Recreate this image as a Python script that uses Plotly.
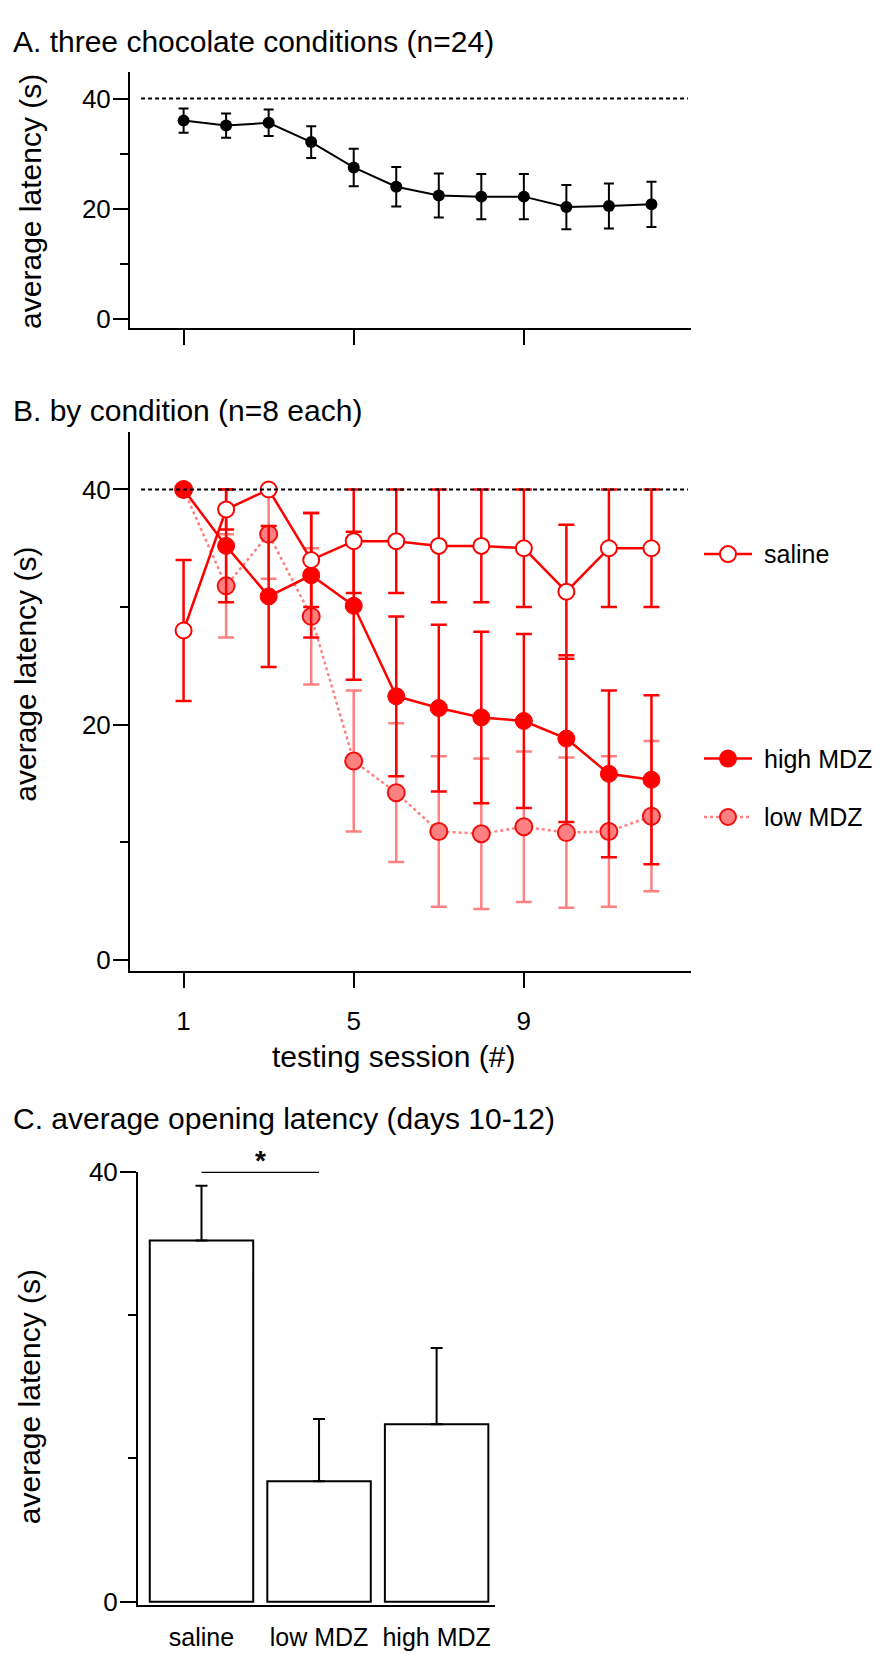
import plotly.graph_objects as go

# Page is 880x1659; the browser body has an 8px margin, so the figure is
# made 16px smaller and every page coordinate is shifted by that margin.
PAGE_W, PAGE_H = 880, 1659
OFF = 8
W, H = PAGE_W - 2 * OFF, PAGE_H - 2 * OFF
FONT = "Liberation Sans, Arial, sans-serif"

# ---------------- data ----------------
sessions = list(range(1, 13))

# Panel A: all animals (n=24)
mean_all = [36.0, 35.1, 35.6, 32.1, 27.5, 24.0, 22.4, 22.2, 22.2, 20.3, 20.5, 20.8]
sem_all = [2.2, 2.2, 2.4, 2.9, 3.4, 3.6, 4.0, 4.1, 4.1, 4.0, 4.1, 4.1]

# Panel B: by condition (n=8 each)
saline_mean = [28.0, 38.3, 40.0, 34.0, 35.6, 35.6, 35.2, 35.2, 35.0, 31.3, 35.0, 35.0]
saline_sem = [6.0, 1.7, 0.0, 4.0, 4.4, 4.4, 4.8, 4.8, 5.0, 5.7, 5.0, 5.0]
high_mean = [40.0, 35.2, 30.9, 32.7, 30.1, 22.4, 21.4, 20.6, 20.3, 18.8, 15.8, 15.3]
high_sem = [0.0, 4.8, 6.0, 5.3, 6.3, 6.8, 7.1, 7.3, 7.4, 7.1, 7.1, 7.2]
low_mean = [40.0, 31.8, 36.2, 29.2, 16.9, 14.2, 10.9, 10.7, 11.3, 10.8, 10.9, 12.2]
low_sem = [0.0, 4.4, 3.8, 5.8, 6.0, 5.9, 6.4, 6.4, 6.4, 6.4, 6.4, 6.4]

# Panel C: average opening latency (days 10-12)
groups = ["saline", "low MDZ", "high MDZ"]
group_mean = [33.6, 11.2, 16.5]
group_sem = [5.1, 5.8, 7.1]

ceiling = 40
x_ticks = [1, 5, 9]
x_ticklabels = ["1", "5", "9"]

RED = "#FF0000"
PINK = "#FF8080"
EDGE = "#F01010"


def px(x):
    return (x - OFF) / W


def py(y):
    return 1 - (y - OFF) / H


fig = go.Figure()

# ---------------- Panel A ----------------
fig.add_trace(go.Scatter(
    x=sessions, y=mean_all, mode="lines+markers",
    line=dict(color="black", width=2),
    marker=dict(color="black", size=12),
    error_y=dict(type="data", array=sem_all, color="black", thickness=2, width=5),
    xaxis="x", yaxis="y", showlegend=False,
))

# ---------------- Panel B ----------------
fig.add_trace(go.Scatter(
    x=sessions, y=low_mean, mode="lines+markers", name="low MDZ",
    line=dict(color=PINK, width=2.5, dash="dot"),
    marker=dict(color=PINK, size=17, line=dict(color=EDGE, width=2)),
    error_y=dict(type="data", array=low_sem, color=PINK, thickness=2.5, width=8),
    xaxis="x2", yaxis="y2", showlegend=False,
))
fig.add_trace(go.Scatter(
    x=sessions, y=high_mean, mode="lines+markers", name="high MDZ",
    line=dict(color=RED, width=2.5),
    marker=dict(color=RED, size=17, line=dict(color=RED, width=1)),
    error_y=dict(type="data", array=high_sem, color=RED, thickness=2.5, width=8),
    xaxis="x2", yaxis="y2", showlegend=False,
))
fig.add_trace(go.Scatter(
    x=sessions, y=saline_mean, mode="lines+markers", name="saline",
    line=dict(color=RED, width=2.5),
    marker=dict(color="white", size=16, line=dict(color=RED, width=2)),
    error_y=dict(type="data", array=saline_sem, color=RED, thickness=2.5, width=8),
    xaxis="x2", yaxis="y2", showlegend=False,
))

# ---------------- Panel C ----------------
fig.add_trace(go.Bar(
    x=groups, y=group_mean, width=0.88,
    marker=dict(color="white", line=dict(color="black", width=2)),
    error_y=dict(type="data", array=group_sem, arrayminus=[0] * len(group_sem),
                 symmetric=False, color="black", thickness=2, width=6),
    xaxis="x3", yaxis="y3", showlegend=False,
))

# ---------------- axes ----------------
axis_common = dict(showgrid=False, zeroline=False, showline=True, linecolor="black",
                   linewidth=2, ticks="outside", tickcolor="black", tickwidth=2)
yfont = dict(family=FONT, size=26, color="black")
xfont = dict(family=FONT, size=26, color="black")

xdom = [px(130), px(691)]
xrange_ab = [-0.26, 12.93]

fig.update_layout(
    xaxis=dict(domain=xdom, range=xrange_ab, anchor="y", tickvals=x_ticks,
               showticklabels=False, ticklen=15, **axis_common),
    yaxis=dict(domain=[py(318), py(58)], range=[-1.6, 44.8], anchor="x",
               tickvals=[0, 20, 40], ticklen=15, tickfont=yfont, ticklabelstandoff=-3,
               minor=dict(tickvals=[10, 30], ticklen=8, tickwidth=2, tickcolor="black",
                          ticks="outside"),
               **axis_common),
    xaxis2=dict(domain=xdom, range=xrange_ab, anchor="y2", tickvals=x_ticks,
                ticktext=x_ticklabels, ticklen=15, tickfont=xfont,
                ticklabelstandoff=11, **axis_common),
    yaxis2=dict(domain=[py(972.6), py(424)], range=[-0.99, 44.9], anchor="x2",
                tickvals=[0, 20, 40], ticklen=15, tickfont=yfont, ticklabelstandoff=-3,
                minor=dict(tickvals=[10, 30], ticklen=8, tickwidth=2, tickcolor="black",
                           ticks="outside"),
                **axis_common),
    xaxis3=dict(domain=[px(138), px(495.4)], range=[-0.54, 2.5], anchor="y3",
                type="category", showgrid=False, zeroline=False, showline=True,
                linecolor="black", linewidth=2, ticks="outside", ticklen=6,
                tickcolor="rgba(0,0,0,0)", ticklabelstandoff=3,
                tickfont=dict(family=FONT, size=25, color="black")),
    yaxis3=dict(domain=[py(1617.5), py(1176.7)], range=[-0.32, 40], anchor="x3",
                tickvals=[0, 40], ticklen=16, tickfont=yfont, ticklabelstandoff=-3,
                minor=dict(tickvals=[40 / 3, 80 / 3], ticklen=8, tickwidth=2,
                           tickcolor="black", ticks="outside"),
                **axis_common),
    width=W, height=H, margin=dict(l=0, r=0, t=0, b=0),
    paper_bgcolor="white", plot_bgcolor="white",
    font=dict(family=FONT, color="black"),
)

shapes = []
# ceiling reference lines
for xr, yr in (("x", "y"), ("x2", "y2")):
    shapes.append(dict(type="line", xref=xr, yref=yr, x0=0, x1=xrange_ab[1] - 0.07,
                       y0=ceiling, y1=ceiling,
                       line=dict(color="black", width=2, dash="4px,3px")))
# significance bar panel C
shapes.append(dict(type="line", xref="x3", yref="y3", x0=0, x1=1, y0=40, y1=40,
                   line=dict(color="black", width=2.5)))

# legend for panel B (drawn manually, positioned like the original)
leg_x = 728
leg_items = [("saline", 34.5, "white", "solid", RED, RED),
             ("high MDZ", 17.1, RED, "solid", RED, RED),
             ("low MDZ", 12.13, PINK, "dot", PINK, EDGE)]
annotations = []
for name, ly, fill, dash, lcol, ecol in leg_items:
    shapes.append(dict(type="line", xref="paper", yref="y2", x0=px(leg_x - 24),
                       x1=px(leg_x + 24), y0=ly, y1=ly,
                       line=dict(color=lcol, width=2.5, dash=dash)))
    shapes.append(dict(type="circle", xref="paper", yref="y2", xsizemode="pixel",
                       ysizemode="pixel", xanchor=px(leg_x), yanchor=ly,
                       x0=-8, x1=8, y0=-8, y1=8, fillcolor=fill,
                       line=dict(color=ecol, width=2)))
    annotations.append(dict(text=name, xref="paper", yref="y2", x=px(762), y=ly,
                            xanchor="left", yanchor="middle", showarrow=False,
                            font=dict(family=FONT, size=25, color="black")))

# panel titles
for txt, yc in (("A. three chocolate conditions (n=24)", 27),
                ("B. by condition (n=8 each)", 402),
                ("C. average opening latency (days 10-12)", 1122)):
    annotations.append(dict(text=txt, xref="paper", yref="paper", x=px(11), y=py(yc),
                            xanchor="left", yanchor="middle", showarrow=False,
                            font=dict(family=FONT, size=30, color="black")))

# y axis titles
for xc, yc in ((31, 190), (26, 671), (29, 1406)):
    annotations.append(dict(text="average latency (s)", xref="paper", yref="paper",
                            x=px(xc), y=py(yc), xanchor="center", yanchor="middle",
                            textangle=-90, showarrow=False,
                            font=dict(family=FONT, size=30, color="black")))

# x axis title panel B
annotations.append(dict(text="testing session (#)", xref="paper", yref="paper",
                        x=px(393), y=py(1059), xanchor="center", yanchor="middle",
                        showarrow=False, font=dict(family=FONT, size=30, color="black")))

# significance star
annotations.append(dict(text="<b>*</b>", xref="x3", yref="y3", x=0.5, y=40,
                        xanchor="center", yanchor="bottom", showarrow=False, yshift=-6,
                        font=dict(family=FONT, size=28, color="black")))

fig.update_layout(shapes=shapes, annotations=annotations)

fig.write_html("out.html")
